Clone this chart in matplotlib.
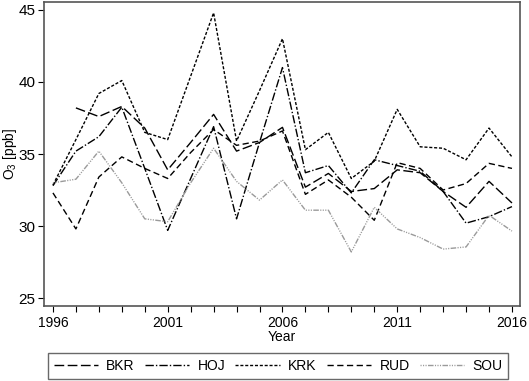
import matplotlib
matplotlib.use("Agg")
import matplotlib.pyplot as plt
import numpy as np

plt.rcParams['font.family'] = ['Liberation Sans', 'DejaVu Sans']
plt.rcParams['mathtext.default'] = 'regular'

years = list(range(1996, 2017))
bkr = [np.nan, 38.2, 37.6, 38.3, 36.8, 33.9, 35.8, 37.75, 35.2, 35.8, 36.85,
       32.7, 33.65, 32.4, 32.6, 33.9, 33.7, 32.4, 31.3, 33.1, 31.6]
hoj = [32.8, 35.2, 36.2, 38.25, 34.0, 29.7, 33.3, 36.9, 30.5, 35.8, 41.0,
       33.7, 34.2, 32.3, 34.6, 34.2, 33.8, 32.4, 30.2, 30.65, 31.35]
krk = [32.85, 36.0, 39.2, 40.1, 36.5, 36.0, 40.4, 44.8, 35.9, 39.4, 43.0,
       35.3, 36.5, 33.3, 34.5, 38.1, 35.5, 35.4, 34.6, 36.8, 34.8]
rud = [32.3, 29.8, 33.4, 34.8, 34.0, 33.3, 35.1, 36.7, 35.6, 35.9, 36.6,
       32.2, 33.2, 32.0, 30.4, 34.4, 34.0, 32.5, 32.95, 34.35, 34.0]
sou = [33.0, 33.25, 35.2, 33.0, 30.5, 30.3, 33.0, 35.4, 33.1, 31.8, 33.2,
       31.1, 31.1, 28.2, 31.3, 29.8, 29.2, 28.4, 28.55, 30.75, 29.65]
names = ['BKR', 'HOJ', 'KRK', 'RUD', 'SOU']
series = [bkr, hoj, krk, rud, sou]
styles = [
    dict(color='black', dashes=(7, 2.5)),
    dict(color='black', dashes=(6, 1.5, 1, 1.5)),
    dict(color='black', dashes=(2.2, 1.3)),
    dict(color='black', dashes=(4.5, 2.5)),
    dict(color='#9a9a9a', dashes=(0.8, 1, 0.8, 1, 0.8, 1, 4, 1)),
]

fig = plt.figure(figsize=(5.29, 3.81), dpi=100)
ax = fig.add_axes([44/529, 1-306/381, (520-44)/529, (306-2)/381])

handles = []
for name, vals, st in zip(names, series, styles):
    h, = ax.plot(years, vals, lw=1.0, label=name, **st)
    handles.append(h)

ax.set_xlim(1995.61, 2016.35)
ax.set_ylim(24.45, 45.55)
ax.set_xticks([1996, 2001, 2006, 2011, 2016])
ax.set_xticks(years, minor=True)
ax.set_yticks([25, 30, 35, 40, 45])
ax.tick_params(axis='both', which='both', direction='out', length=4, width=0.8,
               colors='black')
ax.tick_params(axis='x', which='both', labelsize=10, pad=3)
ax.tick_params(axis='y', which='both', labelsize=11, pad=2)
for sp in ax.spines.values():
    sp.set_color('#555555')
    sp.set_linewidth(1.2)
ax.set_xlabel('Year', fontsize=10, labelpad=0)
ax.set_ylabel(r'O$_3$ [ppb]', fontsize=10, va='center')
ax.yaxis.set_label_coords((10 - 44) / 476, 0.5)

leg = fig.legend(handles, names, loc='center', ncol=5, mode='expand',
                 bbox_to_anchor=(48/529, 1-380/381, 460/529, 28/381),
                 fontsize=10, frameon=True, fancybox=False, handlelength=3.2,
                 borderaxespad=0, handletextpad=0.6, columnspacing=1.0,
                 borderpad=0.4)
leg.get_frame().set_edgecolor('#444444')
leg.get_frame().set_linewidth(1.0)

fig.savefig('out.png', dpi=100)
